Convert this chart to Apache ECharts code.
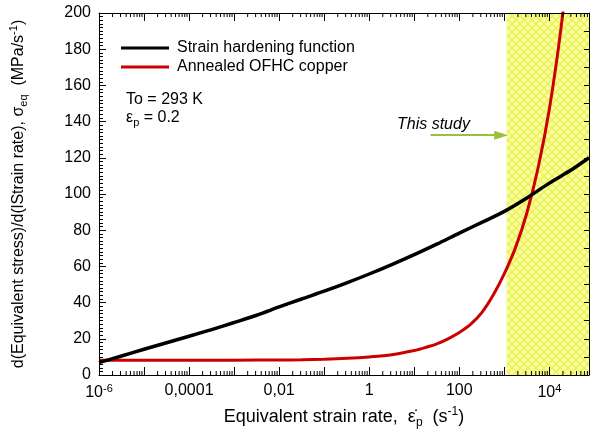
<!DOCTYPE html>
<html>
<head>
<meta charset="utf-8">
<script src="https://cdn.jsdelivr.net/npm/echarts@6/dist/echarts.min.js"></script>
<style>html,body{margin:0;padding:0;background:#fff}#c{width:590px;height:438px}</style>
</head>
<body>
<div id="c"></div>
<script>
// ---- data (x given as log10 of equivalent strain rate) ----
const hardExp = [-6,-5.5,-5,-4.5,-4,-3.5,-3,-2.5,-2,-1.5,-1,-0.5,0,0.5,1,1.5,2,2.5,3,3.5,4,4.5,4.88];
const hardVal = [6.8,10.5,14.2,17.8,21.4,25.1,29,33,37.6,42,46.3,50.9,55.8,61,66.5,72.3,78.4,84.3,90.4,97.8,106,113.5,120];
const cuExp = [-6,-5,-4,-3,-2,-1.5,-1,-0.5,0,0.5,1,1.25,1.5,1.75,2,2.25,2.5,2.75,3,3.25,3.5,3.75,4,4.25,4.5];
const cuVal = [8.2,8.2,8.2,8.2,8.3,8.4,8.7,9.2,10,11.2,13.5,15.2,17.2,20,23.5,28,34.5,44,56,70.5,89.5,114.5,147,190,245];
const tickExps = [-6,-4,-2,0,2,4];
const tickLabels = ['{b|10}{s|-6}','0,0001','0,01','1','100','{b|10}{s|4}'];
const seriesNames = ['Strain hardening function','Annealed OFHC copper'];
const studyStartExp = 3.05;
const arrowFrom = [1.36, 132.5];
const arrowTo = [2.93, 132.5];
const xMin = -6, xMax = 4.88, yMin = 0, yMax = 200;

const FONT = 'Liberation Sans';

// minor log ticks (2..9 in each decade)
const minorExps = [];
for (let d = -6; d <= 4; d++) {
  for (let k = 2; k <= 9; k++) {
    const e = d + Math.log10(k);
    if (e < xMax) minorExps.push(e);
  }
}

// hatch pattern
const pat = document.createElement('canvas');
pat.width = 8; pat.height = 8;
const g = pat.getContext('2d');
g.fillStyle = '#fdfd98';
g.fillRect(0,0,8,8);
g.strokeStyle = '#e3f25c';
g.lineWidth = 1.3;
g.beginPath();
g.moveTo(0,0); g.lineTo(8,8);
g.moveTo(8,0); g.lineTo(0,8);
g.stroke();

const zip = (a,b) => a.map((v,i)=>[v,b[i]]);

const chart = echarts.init(document.getElementById('c'));
const labelRich = {
  b: {fontFamily: FONT, fontSize: 16, color: '#000'},
  s: {fontFamily: FONT, fontSize: 11, color: '#000', padding: [0,0,9,0]}
};
const nameRich = {
  n: {fontFamily: FONT, fontSize: 16, color: '#000'},
  sb: {fontFamily: FONT, fontSize: 11, color: '#000', padding: [10,0,0,0]},
  sp: {fontFamily: FONT, fontSize: 11, color: '#000', padding: [0,0,9,0]}
};
const xNameRich = {
  n: {fontFamily: FONT, fontSize: 18, color: '#000'},
  sb: {fontFamily: FONT, fontSize: 12, color: '#000', padding: [11,0,0,0]},
  sp: {fontFamily: FONT, fontSize: 12, color: '#000', padding: [0,0,10,0]}
};
const axisLineStyle = {show: true, onZero: false, lineStyle: {color: '#000', width: 1}};

chart.setOption({
  animation: false,
  backgroundColor: '#fff',
  grid: {left: 99, right: 1, top: 13, bottom: 63, outerBoundsMode: 'none'},
  legend: {
    orient: 'vertical', left: 116, top: 35, itemGap: 3,
    icon: 'rect', itemWidth: 48, itemHeight: 3,
    data: seriesNames,
    textStyle: {fontFamily: FONT, fontSize: 16, color: '#000', padding: [0,0,0,3]}
  },
  xAxis: [{
    type: 'value', min: xMin, max: xMax, interval: 1, z: 5,
    axisLine: axisLineStyle,
    axisTick: {show: true, inside: true, length: 8, lineStyle: {color: '#000'}},
    splitLine: {show: false},
    axisLabel: {
      margin: 8, fontFamily: FONT, fontSize: 16, color: '#000', rich: labelRich,
      formatter: v => { const i = tickExps.indexOf(Math.round(v*100)/100); return i >= 0 ? tickLabels[i] : ''; }
    },
    name: '{n|Equivalent strain rate,  ε\u0307}{sb|p}{n|  (s}{sp|-1}{n|)}',
    nameLocation: 'middle', nameGap: 30,
    nameTextStyle: {rich: xNameRich}
  }, {
    type: 'value', position: 'top', min: xMin, max: xMax, interval: 1, z: 5,
    axisLine: axisLineStyle,
    axisTick: {show: true, inside: true, length: 8, lineStyle: {color: '#000'}},
    axisLabel: {show: false}, splitLine: {show: false}
  }],
  yAxis: [{
    type: 'value', min: yMin, max: yMax, interval: 20, z: 5,
    axisLine: axisLineStyle,
    axisTick: {show: true, inside: true, length: 7, lineStyle: {color: '#000'}},
    minorTick: {show: true, splitNumber: 10, length: 4, lineStyle: {color: '#000'}},
    splitLine: {show: false},
    axisLabel: {margin: 8, fontFamily: FONT, fontSize: 16, color: '#000'},
    name: '{n|d(Equivalent stress)/d(lStrain rate), σ}{sb|eq}{n|  (MPa/s}{sp|-1}{n|)}',
    nameLocation: 'middle', nameGap: 70,
    nameTextStyle: {rich: nameRich}
  }, {
    type: 'value', position: 'right', min: yMin, max: yMax, interval: 10, z: 5,
    axisLine: axisLineStyle,
    axisTick: {show: true, inside: true, length: 5, lineStyle: {color: '#000'}},
    axisLabel: {show: false}, splitLine: {show: false}
  }],
  graphic: [
    {type: 'text', left: 126, top: 92, z: 10, style: {text: 'To = 293 K', font: '16px ' + FONT, fill: '#000'}},
    {type: 'text', left: 126, top: 110, z: 10, style: {text: '{n|ε}{sb|p}{n| = 0.2}', rich: nameRich, fill: '#000'}},
    {type: 'text', left: 397, top: 117, z: 10, style: {text: 'This study', font: 'italic 16px ' + FONT, fill: '#000'}}
  ],
  series: [
    {
      name: seriesNames[0], type: 'line', data: zip(hardExp, hardVal),
      xAxisIndex: 0, yAxisIndex: 0, z: 4,
      smooth: 0.3, showSymbol: false,
      lineStyle: {color: '#000', width: 3.5}, itemStyle: {color: '#000'},
      markArea: {
        silent: true,
        itemStyle: {color: {image: pat, repeat: 'repeat'}},
        data: [[{xAxis: studyStartExp, yAxis: yMin}, {xAxis: xMax, yAxis: yMax}]]
      },
      markLine: {
        silent: true, symbol: ['none','triangle'], symbolSize: [9, 14],
        lineStyle: {color: '#9cbf3c', width: 2, type: 'solid'},
        label: {show: false},
        data: [[{coord: arrowFrom}, {coord: arrowTo}]]
      }
    },
    {
      name: seriesNames[1], type: 'line', data: zip(cuExp, cuVal),
      xAxisIndex: 0, yAxisIndex: 0, z: 3,
      smooth: 0.3, showSymbol: false,
      lineStyle: {color: '#cc0000', width: 3}, itemStyle: {color: '#cc0000'}
    },
    {
      type: 'custom', name: 'minorTicks', z: 6, silent: true,
      xAxisIndex: 0, yAxisIndex: 0,
      data: minorExps.map(e => [e]),
      renderItem: (params, api) => {
        const pb = api.coord([api.value(0), yMin]);
        const pt = api.coord([api.value(0), yMax]);
        return {type: 'group', children: [
          {type: 'line', shape: {x1: pb[0], y1: pb[1], x2: pb[0], y2: pb[1]-4}, style: {stroke: '#000', lineWidth: 1}},
          {type: 'line', shape: {x1: pt[0], y1: pt[1], x2: pt[0], y2: pt[1]+4}, style: {stroke: '#000', lineWidth: 1}}
        ]};
      }
    }
  ]
});
</script>
</body>
</html>
